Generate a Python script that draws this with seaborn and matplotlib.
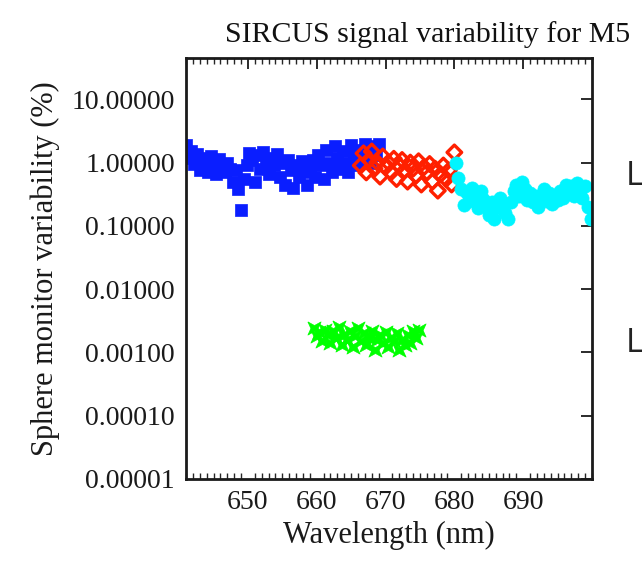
import matplotlib
matplotlib.use("Agg")
import matplotlib.pyplot as plt
import matplotlib.ticker as mticker
import numpy as np
import pandas as pd
import seaborn as sns

# wavelength grids (nm) and variability values (%)
blue_wl = np.round(np.arange(641.0, 669.01, 0.4), 1)
blue_val = [1.9, 1.2, 1.5, 0.95, 1.35, 0.75, 1.2, 1.0, 0.7, 1.25,
            0.85, 0.65, 1.15, 0.9, 0.7, 1.0, 0.8, 0.5, 0.75, 0.38,
            0.18, 0.55, 0.9, 1.4, 1.1, 0.5, 1.3, 0.8, 1.45, 0.95,
            0.65, 1.2, 0.9, 1.35, 0.6, 1.0, 0.45, 1.1, 0.75, 0.4,
            0.9, 0.6, 1.05, 0.7, 0.45, 0.85, 1.1, 0.6, 1.3, 0.9,
            0.55, 1.6, 1.0, 0.7, 1.8, 1.2, 0.8, 1.5, 1.0, 0.7,
            1.9, 1.3, 0.9, 1.6, 1.1, 2.0, 1.4, 1.0, 1.8, 1.3, 2.0]

red_wl = np.round(np.arange(666.4, 680.01, 0.4), 1)
red_val = [0.9, 1.4, 0.7, 1.1, 1.5, 0.8, 1.0, 0.6, 1.25, 0.85,
           1.0, 0.7, 1.15, 0.55, 0.9, 1.1, 0.75, 0.5, 1.0, 0.8,
           0.62, 1.05, 0.45, 0.85, 0.7, 0.95, 0.5, 0.8, 0.36, 0.65,
           0.9, 0.55, 0.75, 0.45, 1.45]

cyan_wl = np.round(np.arange(680.2, 699.81, 0.4), 1)
cyan_val = [1.0, 0.58, 0.38, 0.21, 0.33, 0.25, 0.4, 0.3, 0.19, 0.35,
            0.27, 0.2, 0.15, 0.24, 0.13, 0.2, 0.28, 0.22, 0.16, 0.13,
            0.24, 0.35, 0.45, 0.3, 0.5, 0.38, 0.26, 0.33, 0.24, 0.3,
            0.2, 0.28, 0.38, 0.25, 0.33, 0.22, 0.3, 0.26, 0.35, 0.28,
            0.45, 0.33, 0.42, 0.3, 0.48, 0.36, 0.28, 0.42, 0.2, 0.13]

green_wl = np.round(np.arange(659.6, 674.81, 0.4), 1)
green_val = [0.0024, 0.0018, 0.0021, 0.0015, 0.0023, 0.0019, 0.0014, 0.0022, 0.0017, 0.0025,
             0.0013, 0.0019, 0.0016, 0.0022, 0.0012, 0.0018, 0.0024, 0.0015, 0.0020, 0.0013,
             0.0017, 0.0022, 0.0011, 0.0016, 0.0019, 0.0014, 0.0021, 0.0012, 0.0017, 0.0015,
             0.0020, 0.0011, 0.0016, 0.0013, 0.0019, 0.0014, 0.0022, 0.0017, 0.0023]

y_ticks = [1e-5, 1e-4, 1e-3, 1e-2, 1e-1, 1, 10]
x_ticks = [650, 660, 670, 680, 690]

sns.set_style("white")
plt.rcParams['font.family'] = ['Liberation Serif', 'DejaVu Serif']

fig = plt.figure(figsize=(6.42, 5.78), dpi=100)
ax = fig.add_axes([0.2897, 0.1713, 0.6324, 0.7284])

bowtie = [(-1, 1), (0, 0.45), (1, 1), (0.55, 0), (1, -1), (0, -0.45), (-1, -1), (-0.55, 0), (-1, 1)]

sns.scatterplot(x=blue_wl, y=blue_val, ax=ax, marker='s', s=78, color='#0a1eff',
                edgecolor='#0a1eff', linewidth=0.5)
sns.scatterplot(x=red_wl, y=red_val, ax=ax, marker='D', s=55, facecolor='none',
                edgecolor='#ff2000', linewidth=2.4)
sns.scatterplot(x=cyan_wl, y=cyan_val, ax=ax, marker='o', s=90, color='#00f5ff',
                edgecolor='#00f5ff', linewidth=0.5)
sns.scatterplot(x=green_wl, y=green_val, ax=ax, marker=bowtie, s=90, color='#00ff00',
                edgecolor='#00ff00', linewidth=0.5)

ax.set_yscale('log')
ax.set_xlim(641, 700)
ax.set_ylim(1e-5, 45)
ax.set_xticks(x_ticks)
ax.xaxis.set_minor_locator(mticker.MultipleLocator(1))
ax.set_yticks(y_ticks)
ax.yaxis.set_major_formatter(mticker.FuncFormatter(lambda v, p: f"{v:.5f}"))
ax.yaxis.set_minor_locator(mticker.NullLocator())

ax.tick_params(axis='both', which='major', direction='in', length=8, width=1.3,
               top=True, right=True, labelsize=20, colors='#1a1a1a', pad=8)
ax.tick_params(axis='x', which='minor', direction='in', length=4, width=1,
               top=True, bottom=True)
for sp in ax.spines.values():
    sp.set_linewidth(2)
    sp.set_color('#1a1a1a')

ax.set_xlabel("Wavelength (nm)", fontsize=22, color='#1a1a1a', labelpad=4)
ax.set_ylabel("Sphere monitor variability (%)", fontsize=22, color='#1a1a1a', labelpad=8)

fig.text(0.35, 0.94, "SIRCUS signal variability for M5", fontsize=21.5,
         color='#111111', va='center', ha='left')
# fragments of slide text at the right edge
fig.text(0.975, 0.695, "L", fontsize=24, family=['Open Sans', 'DejaVu Sans'],
         color='#222222', va='center', ha='left')
fig.text(0.975, 0.405, "L", fontsize=24, family=['Open Sans', 'DejaVu Sans'],
         color='#222222', va='center', ha='left')

fig.savefig("out.png", dpi=100)
